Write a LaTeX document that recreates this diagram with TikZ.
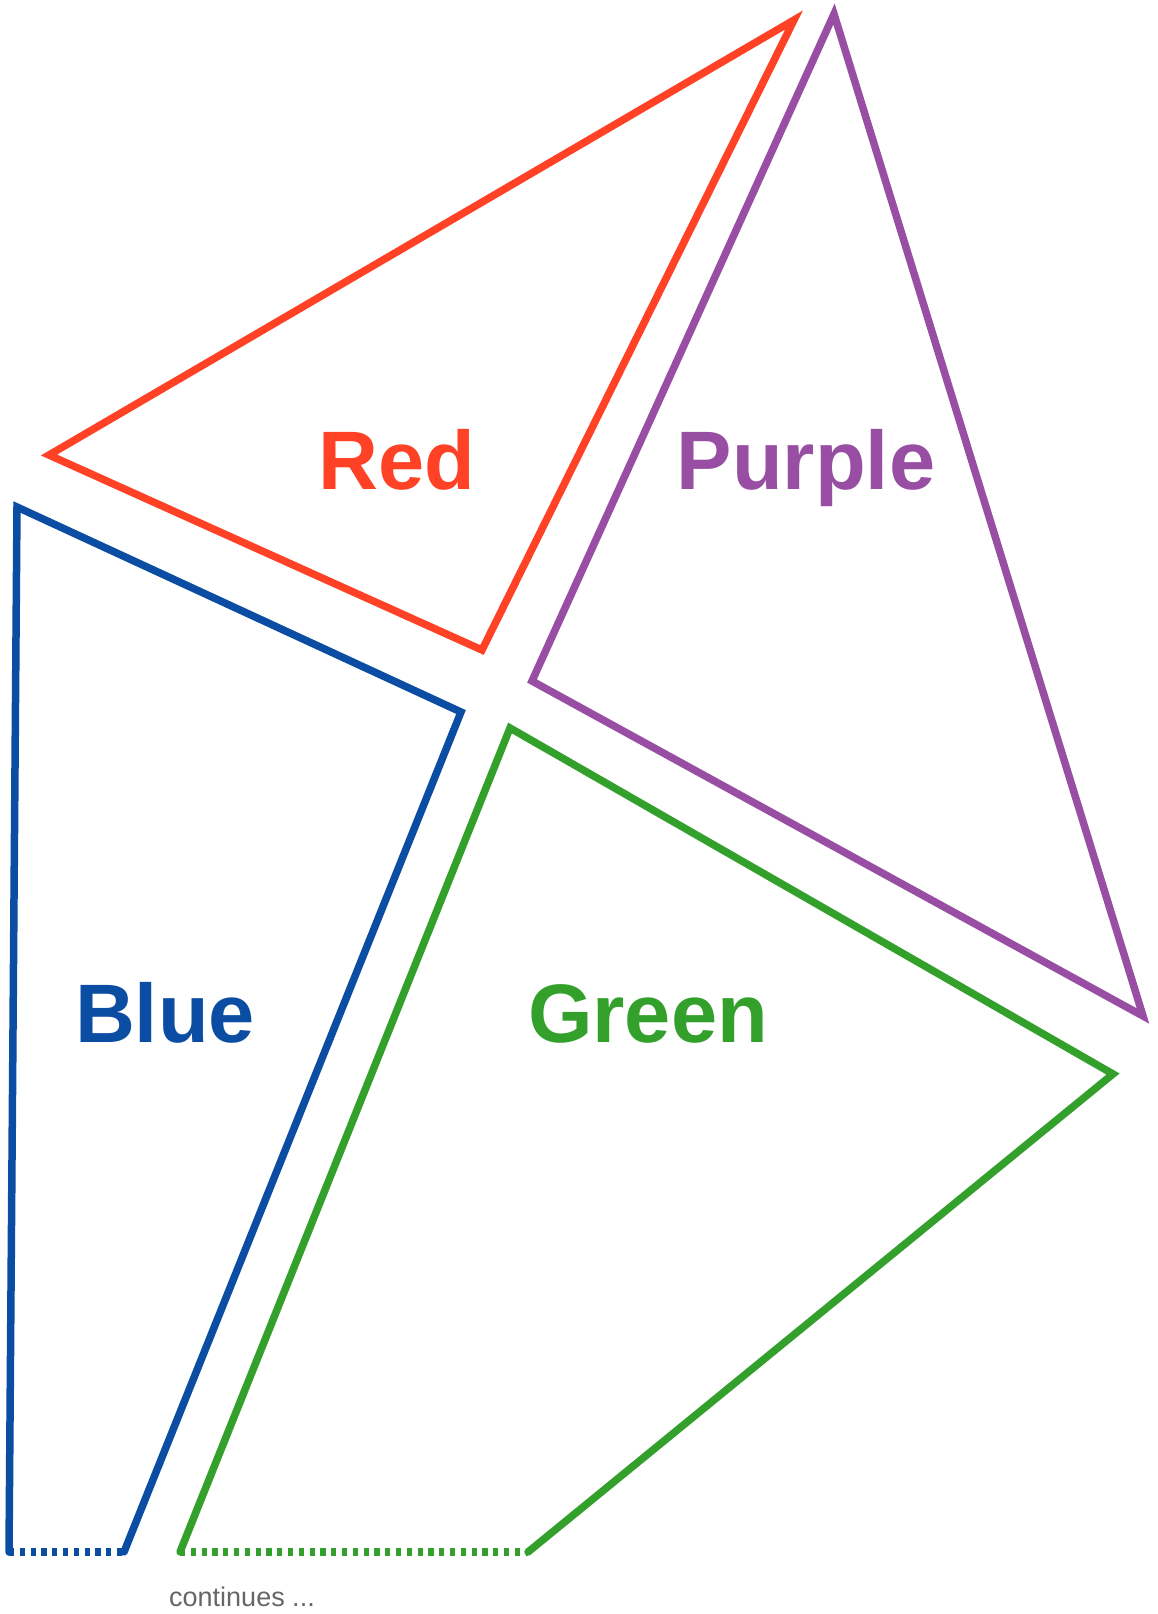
\documentclass[tikz,border=0pt]{standalone}
\usepackage{fontspec}
\setmainfont{Liberation Sans}
\usepackage{tikz}
\definecolor{redline}{RGB}{255, 66, 38}
\definecolor{purpleline}{RGB}{152, 78, 163}
\definecolor{blueline}{RGB}{11, 77, 162}
\definecolor{greenline}{RGB}{51, 160, 44}
\definecolor{graytext}{RGB}{102, 102, 102}

\begin{document}
\begin{tikzpicture}[x=1pt, y=-1pt,
		edge/.style={line width=7.5pt, line join=miter, line cap=round},
		cut/.style={line width=7.5pt, line cap=butt, dash pattern=on 5.2pt off 5.6pt},
		label/.style={font=\fontsize{83}{83}\selectfont\bfseries, anchor=base, inner sep=0pt}]
	\useasboundingbox (0,0) rectangle (1158,1614);
	% corners of the pieces
	\coordinate (r1) at (49,455);
	\coordinate (r2) at (794,20);
	\coordinate (r3) at (482,650);
	\coordinate (p1) at (834,14);
	\coordinate (p2) at (1143,1016);
	\coordinate (p3) at (532,681);
	\coordinate (b1) at (17,507);
	\coordinate (b2) at (461,712);
	\coordinate (b3) at (124,1552);
	\coordinate (b4) at (9,1552);
	\coordinate (g1) at (510,728);
	\coordinate (g2) at (1113,1074);
	\coordinate (g3) at (528,1552);
	\coordinate (g4) at (180,1552);
	% outlines
	\draw[edge, redline] (r1) -- (r2) -- (r3) -- cycle;
	\draw[edge, purpleline] (p1) -- (p2) -- (p3) -- cycle;
	\draw[edge, blueline] (b4) -- (b1) -- (b2) -- (b3);
	\draw[cut, blueline] (b4) -- (b3);
	\draw[edge, greenline] (g4) -- (g1) -- (g2) -- (g3);
	\draw[cut, greenline] (g4) -- (g3);
	% names
	\node[label, text=redline] (red) at (397,489) {Red};
	\node[label, text=purpleline] (purple) at (806,489) {Purple};
	\node[label, text=blueline] (blue) at (165,1042) {Blue};
	\node[label, text=greenline] (green) at (648,1042) {Green};
	\node[text=graytext, font=\fontsize{27}{27}\selectfont, anchor=base, inner sep=0pt] (more) at (242,1606) {continues ...};
\end{tikzpicture}
\end{document}
